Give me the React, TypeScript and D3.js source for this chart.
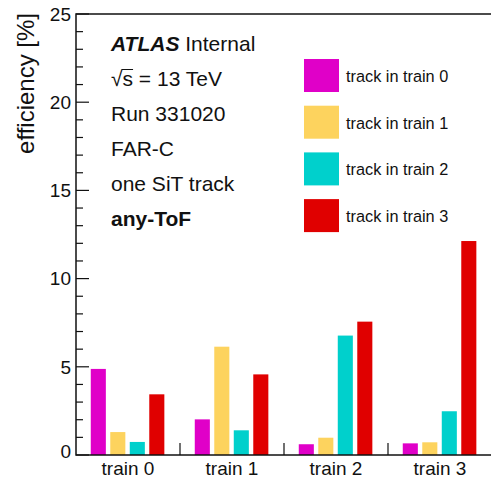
import React, { useEffect, useRef } from 'react';
import * as d3 from 'd3';

// categories (x bins) and series
const trains = ['train 0', 'train 1', 'train 2', 'train 3'];
const seriesNames = ['track in train 0', 'track in train 1', 'track in train 2', 'track in train 3'];
const colors = ['#e000c8', '#fdd35e', '#00d0cc', '#e00000'];

// efficiency [%] per bin, one array per series
const track0 = [4.88, 2.02, 0.61, 0.66];
const track1 = [1.30, 6.14, 0.98, 0.72];
const track2 = [0.74, 1.40, 6.77, 2.48];
const track3 = [3.44, 4.57, 7.56, 12.13];
const series = [track0, track1, track2, track3];

const yTicks = [0, 5, 10, 15, 20, 25];
const infoLines = ['Run 331020', 'FAR-C', 'one SiT track'];

function App() {
  const ref = useRef<SVGSVGElement>(null);

  useEffect(() => {
    const width = 491;
    const height = 482;
    const left = 76, right = 492, top = 14, bottom = 455;
    const font = '"Liberation Sans", Arial, Helvetica, sans-serif';

    const svg = d3.select(ref.current);
    svg.selectAll('*').remove();
    svg.attr('width', width).attr('height', height).style('background', 'white');

    const x = d3.scaleBand().domain(trains).range([left, right]);
    const y = d3.scaleLinear().domain([0, 25]).range([bottom, top]);
    const bw = x.bandwidth();

    // bars
    series.forEach((vals, s) => {
      svg.append('g')
        .selectAll('rect')
        .data(vals)
        .enter()
        .append('rect')
        .attr('x', (d, i) => (x(trains[i]) as number) + bw * (0.142 + 0.1875 * s))
        .attr('y', d => y(d))
        .attr('width', bw * 0.145)
        .attr('height', d => y(0) - y(d))
        .attr('fill', colors[s]);
    });

    // frame
    svg.append('rect')
      .attr('x', left).attr('y', top)
      .attr('width', right - left).attr('height', bottom - top)
      .attr('fill', 'none').attr('stroke', '#111').attr('stroke-width', 1.5);

    // y minor + major ticks
    const minor = d3.range(0, 25.01, 1);
    svg.append('g').selectAll('line').data(minor).enter().append('line')
      .attr('x1', left).attr('x2', d => left + (d % 5 === 0 ? 13 : 7))
      .attr('y1', d => y(d)).attr('y2', d => y(d))
      .attr('stroke', '#111').attr('stroke-width', 1.2);

    svg.append('g').selectAll('text').data(yTicks).enter().append('text')
      .attr('x', left - 5).attr('y', d => y(d) - (d === 0 ? 4 : 0)).attr('dy', '0.36em')
      .attr('text-anchor', 'end')
      .style('font-family', font).style('font-size', '19px').attr('fill', '#111')
      .text(d => d);

    // x bin boundary ticks
    const edges = trains.slice(1).map(t => x(t) as number);
    svg.append('g').selectAll('line').data(edges).enter().append('line')
      .attr('x1', d => d).attr('x2', d => d)
      .attr('y1', bottom).attr('y2', bottom - 12)
      .attr('stroke', '#111').attr('stroke-width', 1.2);

    svg.append('g').selectAll('text').data(trains).enter().append('text')
      .attr('x', d => (x(d) as number) + bw / 2).attr('y', 475)
      .attr('text-anchor', 'middle')
      .style('font-family', font).style('font-size', '19px').attr('fill', '#111')
      .text(d => d);

    // y-axis title
    svg.append('text')
      .attr('transform', 'translate(34, 13) rotate(-90)')
      .attr('text-anchor', 'end')
      .style('font-family', font).style('font-size', '24px').attr('fill', '#111')
      .text('efficiency [%]');

    // ATLAS label block
    const tx = 111;
    const fs = '21px';
    const atlas = svg.append('text').attr('x', tx).attr('y', 51)
      .style('font-family', font).style('font-size', fs).attr('fill', '#111');
    atlas.append('tspan').style('font-weight', 'bold').style('font-style', 'italic').text('ATLAS');
    atlas.append('tspan').text(' Internal');

    const sq = svg.append('text').attr('x', tx).attr('y', 86)
      .style('font-family', font).style('font-size', fs).attr('fill', '#111')
      .text('\u221As = 13 TeV');
    const sqNode = sq.node() as SVGTextElement;
    const s0 = sqNode.getSubStringLength(0, 1);
    const s1 = sqNode.getSubStringLength(1, 1);
    svg.append('line')
      .attr('x1', tx + s0 - 1).attr('x2', tx + s0 + s1)
      .attr('y1', 69.5).attr('y2', 69.5)
      .attr('stroke', '#111').attr('stroke-width', 1);

    svg.append('g').selectAll('text').data(infoLines).enter().append('text')
      .attr('x', tx).attr('y', (d, i) => 121 + 35 * i)
      .style('font-family', font).style('font-size', fs).attr('fill', '#111')
      .text(d => d);

    svg.append('text').attr('x', tx).attr('y', 226)
      .style('font-family', font).style('font-size', fs).style('font-weight', 'bold').attr('fill', '#111')
      .text('any-ToF');

    // legend
    const legend = svg.append('g').selectAll('g').data(seriesNames).enter().append('g')
      .attr('transform', (d, i) => `translate(304, ${59 + 46.7 * i})`);
    legend.append('rect').attr('width', 35).attr('height', 33).attr('fill', (d, i) => colors[i]);
    legend.append('text').attr('x', 42).attr('y', 23)
      .style('font-family', font).style('font-size', '16.3px').attr('fill', '#111')
      .text(d => d);
  }, []);

  return (
    <div style={{ position: 'fixed', left: 0, top: 0 }}>
      <svg ref={ref} style={{ display: 'block' }}></svg>
    </div>
  );
}

export default App;
